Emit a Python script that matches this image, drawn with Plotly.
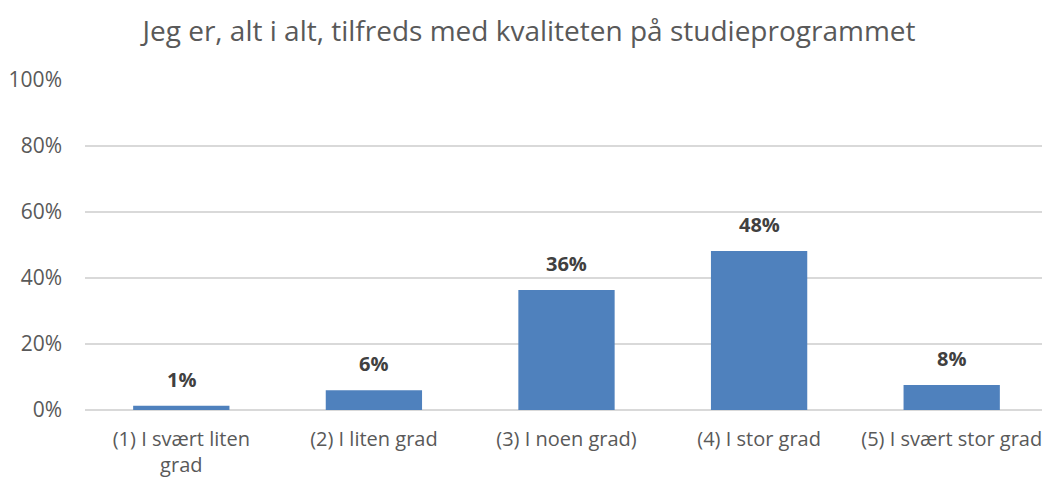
import plotly.graph_objects as go

categories = [
    "(1) I svært liten<br>grad",
    "(2) I liten grad",
    "(3) I noen grad)",
    "(4) I stor grad",
    "(5) I svært stor grad",
]
shares = [0.013, 0.060, 0.364, 0.482, 0.076]
tick_vals = [0, 0.2, 0.4, 0.6, 0.8, 1.0]
tick_text = ["0%", "20%", "40%", "60%", "80%", "100%"]

FONT = "Open Sans, sans-serif"
GREY = "#595959"

fig = go.Figure(
    go.Bar(
        x=categories,
        y=shares,
        marker=dict(color="#4F81BD", line=dict(width=0)),
        width=0.5,
        hoverinfo="x+y",
    )
)

# data labels above each bar
for cat, val in zip(categories, shares):
    fig.add_annotation(
        x=cat, y=val, text=f"<b>{val:.0%}</b>",
        showarrow=False, yanchor="bottom", yshift=11,
        font=dict(size=20, color="#404040", family=FONT),
    )

# page body adds an 8px margin, so the figure is sized to fit inside it
fig.update_layout(
    width=1042,
    height=471,
    title=dict(
        text="Jeg er, alt i alt, tilfreds med kvaliteten på studieprogrammet",
        x=0.5, xanchor="center", y=0.95, yanchor="middle",
        font=dict(size=28, color=GREY, family=FONT),
    ),
    paper_bgcolor="white",
    plot_bgcolor="white",
    showlegend=False,
    margin=dict(l=77, r=2, t=72, b=69),
    font=dict(family=FONT, color=GREY, size=20),
    xaxis=dict(
        showgrid=False, showline=False, ticks="", ticklabelstandoff=15,
        tickfont=dict(size=20, color=GREY, family=FONT),
    ),
    yaxis=dict(
        range=[0, 1.0],
        tickvals=tick_vals,
        ticktext=tick_text,
        showgrid=True, gridcolor="#D9D9D9", gridwidth=1.5,
        zeroline=True, zerolinecolor="#D9D9D9", zerolinewidth=1.5,
        showline=False, ticks="", ticklabelstandoff=22,
        tickfont=dict(size=21, color=GREY, family=FONT),
    ),
)

fig.write_html("out.html")
